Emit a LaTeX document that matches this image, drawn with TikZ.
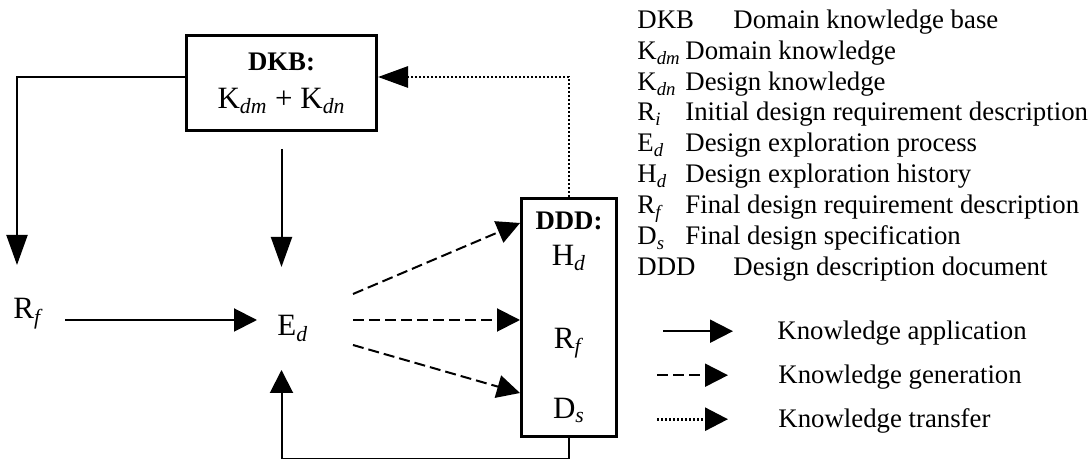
\documentclass[tikz,border=0pt]{standalone}
\usepackage{fontspec}
\setmainfont{Liberation Serif}
\usetikzlibrary{arrows.meta}
\newcommand{\ix}[1]{\textsubscript{\textit{#1}}}
\newcommand{\bigsize}{\fontsize{15.5pt}{18pt}\selectfont}
\newcommand{\smallbf}[1]{\textbf{\fontsize{13.4pt}{15.45pt}\selectfont #1}}
\tikzset{
	box/.style={draw, line width=1.7pt, inner sep=0pt, align=center, font=\bigsize},
	txt/.style={inner sep=0pt, anchor=base west},
	app/.style={line width=1pt, -{Triangle[length=11.5pt,width=11.5pt]}},
	gen/.style={app, dash pattern=on 5.5pt off 2.5pt},
	trf/.style={app, line width=1.4pt, dash pattern=on 1.1pt off 0.9pt},
	longtip/.style={-{Triangle[length=15pt,width=10.5pt]}}
}
\begin{document}
\begin{tikzpicture}[x=0.5pt, y=-0.5pt, font=\fontsize{13.4pt}{15.45pt}\selectfont]
	\useasboundingbox (0,0) rectangle (1089,459);

	\node[box, minimum width=94.8pt, minimum height=47.3pt] (dkb) at (281.5,83)
		{\smallbf{DKB:}\\[1pt]K\ix{dm} + K\ix{dn}};
	\node[box, minimum width=47.3pt, minimum height=118.8pt] (ddd) at (569,317.5)
		{\smallbf{DDD:}\\[0pt]H\ix{d}\\[23.5pt]R\ix{f}\\[17pt]D\ix{s}};
	\node[txt, font=\bigsize] (rf) at (13,319) {R\ix{f}};
	\node[txt, font=\bigsize] (ed) at (277,336) {E\ix{d}};

	\coordinate (rfin) at (17,265);
	\coordinate (edtop) at (281.5,267);
	\coordinate (edbot) at (281.5,370);
	\coordinate (rfout) at (65,320);
	\coordinate (edin) at (257,320);
	\coordinate (edout1) at (353,294);
	\coordinate (edout2) at (353,320);
	\coordinate (edout3) at (353,345);
	\coordinate (dddin1) at (520,223);
	\coordinate (dddin2) at (520,320);
	\coordinate (dddin3) at (520,393);

	\draw[app, longtip] ([yshift=3pt]dkb.west) -| (rfin);
	\draw[app, longtip] ([yshift=-8.5pt]dkb.south) -- (edtop);
	\draw[app] (rfout) -- (edin);
	\draw[gen] (edout1) -- (dddin1);
	\draw[gen] (edout2) -- (dddin2);
	\draw[gen] (edout3) -- (dddin3);
	\draw[app] (ddd.south) -- ++(0,21.5) -| (edbot);
	\draw[trf, longtip] (ddd.north) |- ([yshift=3pt]dkb.east);

	% abbreviations
	\node[txt] (lkb) at (637,28.7) {DKB};
	\node[txt] (dkb2) at (733,28.7) {Domain knowledge base};
	\node[txt] (lkdm) at (637,59.7) {K\ix{dm}};
	\node[txt] (dkdm) at (685,59.7) {Domain knowledge};
	\node[txt] (lkdn) at (637,90.7) {K\ix{dn}};
	\node[txt] (dkdn) at (685,90.7) {Design knowledge};
	\node[txt] (lri) at (637,120.7) {R\ix{i}};
	\node[txt] (dri) at (685,120.7) {Initial design requirement description};
	\node[txt] (led) at (637,151.7) {E\ix{d}};
	\node[txt] (ded) at (685,151.7) {Design exploration process};
	\node[txt] (lhd) at (637,182.7) {H\ix{d}};
	\node[txt] (dhd) at (685,182.7) {Design exploration history};
	\node[txt] (lrf) at (637,213.7) {R\ix{f}};
	\node[txt] (drf) at (685,213.7) {Final design requirement description};
	\node[txt] (lds) at (637,244.7) {D\ix{s}};
	\node[txt] (dds) at (685,244.7) {Final design specification};
	\node[txt] (ldd) at (637,275.7) {DDD};
	\node[txt] (ddd2) at (733,275.7) {Design description document};

	% arrow kinds
	\node[txt] (kapp) at (777,340) {Knowledge application};
	\node[txt] (kgen) at (778,384) {Knowledge generation};
	\node[txt] (ktrf) at (778,428) {Knowledge transfer};
	\draw[app] ([xshift=-57pt,yshift=4.4pt]kapp.base west) -- ([xshift=-22pt,yshift=4.4pt]kapp.base west);
	\draw[gen] ([xshift=-60.5pt,yshift=4.4pt]kgen.base west) -- ([xshift=-25pt,yshift=4.4pt]kgen.base west);
	\draw[trf] ([xshift=-60.5pt,yshift=4.4pt]ktrf.base west) -- ([xshift=-25pt,yshift=4.4pt]ktrf.base west);
\end{tikzpicture}
\end{document}
